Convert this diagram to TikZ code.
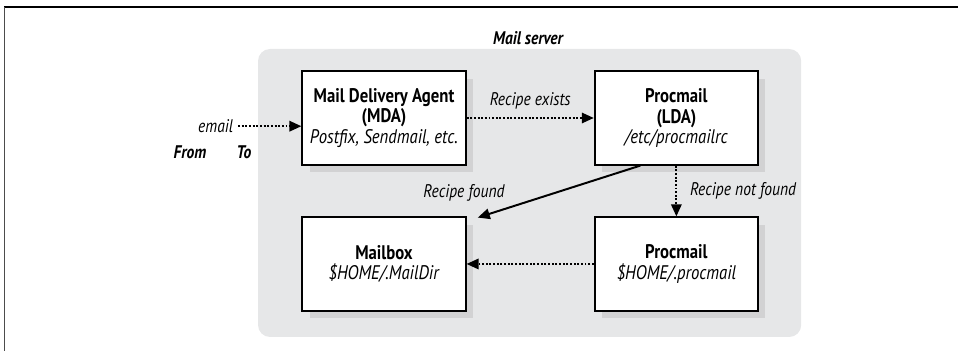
\documentclass[tikz,border=0pt]{standalone}
\usepackage{fontspec}
\setmainfont{PT Sans}[FakeStretch=0.85]
\usetikzlibrary{positioning,arrows.meta,shadows}
\definecolor{srvgray}{HTML}{E6E7E8}

\begin{document}
\begin{tikzpicture}[
      agent/.style={draw,line width=1.4pt,fill=white,minimum width=4.08cm,
        minimum height=2.33cm,align=center,font=\fontsize{14}{14.4}\selectfont,
        drop shadow={shadow xshift=0.18cm,shadow yshift=-0.18cm,fill=black!25}},
      flow/.style={line width=1.4pt,dash pattern=on 1.4pt off 1.2pt,
        -{Triangle[length=0.3cm,width=0.26cm]}},
      lbl/.style={font=\fontsize{13}{14}\selectfont\itshape},
      tag/.style={font=\fontsize{13}{14}\selectfont\bfseries\itshape}]
    \useasboundingbox (0,0) rectangle (23.95,8.775);
    % page frame (top and left edges only)
    \draw[line width=0.8pt] (23.95,8.6) -- (0.11,8.6);
    \draw[line width=1pt,black!70] (0.11,8.6) -- (0.11,0);
    % mail server area
    \fill[srvgray,rounded corners=0.3cm] (6.45,0.35) rectangle (20.03,7.55);
    \node[tag] (server) at (13.2,7.82) {Mail server};
    % agents
    \node[agent] (mda) at (9.6,5.825)
      {\textbf{Mail Delivery Agent}\\ \textbf{(MDA)}\\ \textit{Postfix, Sendmail, etc.}};
    \node[agent,right=3.18cm of mda] (lda)
      {\textbf{Procmail}\\ \textbf{(LDA)}\\ \textit{/etc/procmailrc}};
    \node[agent,below=1.27cm of mda] (mbox)
      {\textbf{Mailbox}\\ \textit{\$HOME/.MailDir}};
    \node[agent,below=1.27cm of lda] (user)
      {\textbf{Procmail}\\ \textit{\$HOME/.procmail}};
    % incoming mail
    \node[lbl,anchor=east] (email) at (5.95,5.62) {email};
    \node[tag] (from) at (4.75,4.98) {From};
    \node[tag] (to) at (6.1,4.98) {To};
    % connectors
    \draw[flow] (email.east) -- (email.east -| mda.west);
    \draw[flow] (mda.east) -- node[lbl,above=0.08cm] {Recipe exists} (lda.west);
    \draw[line width=1.4pt,-{Triangle[length=0.3cm,width=0.26cm]}]
      ([xshift=-0.9cm]lda.south) -- ([xshift=0.28cm,yshift=-0.03cm]mbox.north east);
    \node[lbl] (found) at (11.6,3.95) {Recipe found};
    \draw[flow] (lda.south) -- node[lbl,right=0.2cm] {Recipe not found} (user.north);
    \draw[flow] (user.west) -- (mbox.east);
  \end{tikzpicture}
\end{document}
